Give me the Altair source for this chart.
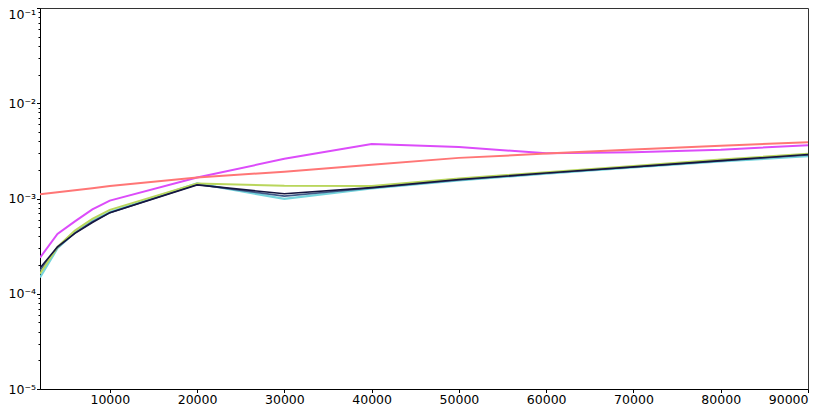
import altair as alt
import pandas as pd

x_vals = [2000, 4000, 6000, 8000, 10000, 20000, 30000, 40000, 50000, 60000, 70000, 80000, 90000]

navy = [1.86e-4, 3.1e-4, 4.3e-4, 5.6e-4, 7.1e-4, 1.39e-3, 1.12e-3, 1.30e-3, 1.58e-3, 1.85e-3, 2.15e-3, 2.50e-3, 2.90e-3]
slate = [1.75e-4, 3.05e-4, 4.35e-4, 5.7e-4, 7.1e-4, 1.40e-3, 1.06e-3, 1.29e-3, 1.57e-3, 1.84e-3, 2.14e-3, 2.48e-3, 2.87e-3]
cyan = [1.48e-4, 3.0e-4, 4.4e-4, 5.8e-4, 7.2e-4, 1.44e-3, 0.99e-3, 1.28e-3, 1.55e-3, 1.82e-3, 2.12e-3, 2.45e-3, 2.78e-3]
yellow = [1.62e-4, 3.1e-4, 4.6e-4, 6.1e-4, 7.6e-4, 1.44e-3, 1.36e-3, 1.35e-3, 1.62e-3, 1.89e-3, 2.20e-3, 2.56e-3, 2.95e-3]
magenta = [2.39e-4, 4.25e-4, 5.75e-4, 7.7e-4, 9.5e-4, 1.66e-3, 2.61e-3, 3.74e-3, 3.48e-3, 2.98e-3, 3.06e-3, 3.25e-3, 3.63e-3]
salmon = [1.11e-3, 1.16e-3, 1.22e-3, 1.28e-3, 1.35e-3, 1.66e-3, 1.91e-3, 2.26e-3, 2.67e-3, 2.96e-3, 3.27e-3, 3.59e-3, 3.90e-3]

series = [
    ("cyan", cyan, "#74d4dc", 2.2),
    ("slate", slate, "#3f5a88", 1.6),
    ("yellow", yellow, "#b9d65c", 2.0),
    ("navy", navy, "#15153f", 1.6),
    ("magenta", magenta, "#dc4cfa", 2.0),
    ("salmon", salmon, "#ff7676", 2.0),
]

x_ticks = [10000, 20000, 30000, 40000, 50000, 60000, 70000, 80000, 90000]
y_ticks = []
for k in range(-5, -1):
    for m in range(1, 10):
        y_ticks.append(m * 10.0 ** k)
y_ticks.append(1e-1)

rows = []
for name, vals, _, _ in series:
    for xv, yv in zip(x_vals, vals):
        rows.append({"x": xv, "y": yv, "s": name})
df = pd.DataFrame(rows)

xenc = alt.X(
    "x:Q",
    scale=alt.Scale(domain=[2000, 90000], nice=False, zero=False),
    axis=alt.Axis(
        values=x_ticks, title=None, grid=False, format="d",
        labelFont="DejaVu Sans", labelFontSize=12.5, labelColor="black",
        tickColor="black", domainColor="black", tickSize=3.5, labelPadding=1,
    ),
)
is_major = "abs(log(datum.value)/LN10 - round(log(datum.value)/LN10)) < 0.01"
label_expr = (
    is_major + " ? "
    "('10' + (round(log(datum.value)/LN10) == -1 ? '⁻¹' : "
    "round(log(datum.value)/LN10) == -2 ? '⁻²' : "
    "round(log(datum.value)/LN10) == -3 ? '⁻³' : "
    "round(log(datum.value)/LN10) == -4 ? '⁻⁴' : '⁻⁵')) : ''"
)
yenc = alt.Y(
    "y:Q",
    scale=alt.Scale(type="log", domain=[1e-5, 1e-1], nice=False),
    axis=alt.Axis(
        values=y_ticks, title=None, grid=False, labelExpr=label_expr,
        labelFont="DejaVu Sans", labelFontSize=12.5, labelColor="black",
        tickColor="black", domainColor="black",
        tickSize={"expr": is_major + " ? 3.5 : 2"},
        labelBaseline={"expr": "datum.value > 0.05 ? 'top' : 'middle'"},
        labelPadding=1, labelOverlap=False, labelFlush=False,
    ),
)

layers = []
for name, _, color, w in series:
    layers.append(
        alt.Chart(df)
        .transform_filter(alt.datum.s == name)
        .mark_line(color=color, strokeWidth=w, clip=True)
        .encode(x=xenc, y=yenc)
    )

chart = (
    alt.layer(*layers)
    .properties(
        width=768, height=381,
        autosize=alt.AutoSizeParams(type="none"),
        padding={"left": 32, "top": 0, "right": 14, "bottom": 18},
        background="white",
    )
    .configure_view(stroke="#333333", strokeWidth=1)
)

chart.save("out.html", embed_options={"renderer": "svg", "actions": False})
